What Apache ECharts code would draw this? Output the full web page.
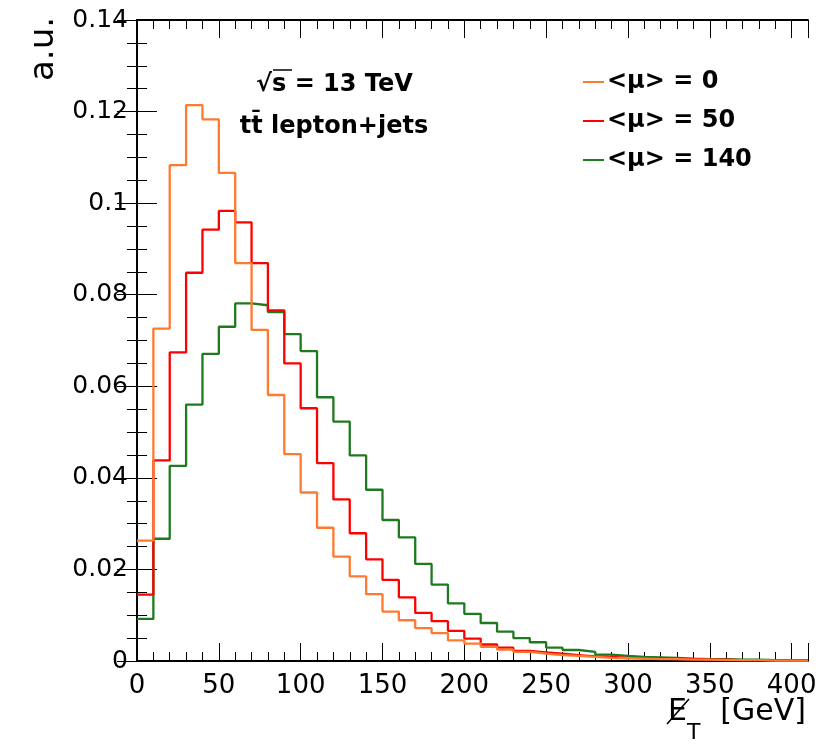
<!DOCTYPE html>
<html>
<head>
<meta charset="utf-8">
<script src="https://cdn.jsdelivr.net/npm/echarts@6/dist/echarts.min.js"></script>
<style>html,body{margin:0;padding:0;background:#fff}#c{width:824px;height:751px}</style>
</head>
<body>
<div id="c"></div>
<script>
// bin lower edges (GeV), bin width 10
const binLow = [0,10,20,30,40,50,60,70,80,90,100,110,120,130,140,150,160,170,180,190,200,
  210,220,230,240,250,260,270,280,290,300,310,320,330,340,350,360,370,380,390,400];
const binHighEnd = 410;
const mu0 = [0.0263,0.0726,0.1083,0.1214,0.1183,0.1066,0.0869,0.0723,0.0581,0.0452,0.0368,
  0.0291,0.0228,0.0185,0.0146,0.0108,0.0089,0.0072,0.0061,0.0045,0.0038,0.0031,0.0025,
  0.0020,0.0016,0.0013,0.0011,0.0009,0.0007,0.0006,0.0005,0.0004,0.0004,0.0003,0.0003,
  0.0002,0.0002,0.0002,0.0001,0.0001,0.0001];
const mu50 = [0.0145,0.0438,0.0674,0.0848,0.0942,0.0983,0.0958,0.0869,0.0766,0.0650,0.0552,
  0.0432,0.0353,0.0279,0.0222,0.0177,0.0139,0.0105,0.0087,0.0066,0.0049,0.0036,0.0029,
  0.0022,0.0019,0.0016,0.0013,0.0010,0.0009,0.0007,0.0006,0.0005,0.0004,0.0004,0.0003,
  0.0003,0.0002,0.0002,0.0002,0.0001,0.0001];
const mu140 = [0.0092,0.0267,0.0426,0.0560,0.0671,0.0730,0.0781,0.0777,0.0762,0.0714,0.0677,
  0.0576,0.0523,0.0449,0.0374,0.0308,0.0270,0.0212,0.0167,0.0126,0.0103,0.0083,0.0064,
  0.0050,0.0041,0.0029,0.0024,0.0020,0.0014,0.0011,0.0009,0.0008,0.0007,0.0005,0.0004,
  0.0004,0.0003,0.0003,0.0002,0.0002,0.0002];
const seriesNames = ['<\u03bc> = 0', '<\u03bc> = 50', '<\u03bc> = 140'];
const seriesColors = ['#ff7a2e', '#ff0000', '#1f7a1f'];

function histPoints(vals) {
  const pts = binLow.map((e, i) => [e, vals[i]]);
  pts.push([binHighEnd, vals[vals.length - 1]]);
  return pts;
}

const FONT = 'DejaVu Sans';
const chart = echarts.init(document.getElementById('c'), null, {renderer: 'canvas'});
const lineBlack = {show: true, lineStyle: {color: '#000', width: 1.8}};
const noLine = {show: false};

function xAx(pos, interval, tickLen, labels, line) {
  return {
    type: 'value', position: pos, min: 0, max: 410, interval: interval,
    axisLine: line ? lineBlack : noLine,
    axisTick: {show: true, inside: true, length: tickLen, lineStyle: {color: '#000', width: 1}},
    axisLabel: labels ? {show: true, fontFamily: FONT, fontSize: 26, color: '#000', margin: 12,
      formatter: v => (v > 400 ? '' : String(v))} : {show: false},
    splitLine: {show: false}
  };
}
function yAx(pos, labels) {
  return {
    type: 'value', position: pos, min: 0, max: 0.14, interval: 0.02,
    axisLine: lineBlack,
    axisTick: {show: true, inside: true, length: 20, lineStyle: {color: '#000', width: 1}},
    minorTick: {show: true, splitNumber: 4, length: 10, lineStyle: {color: '#000', width: 1}},
    axisLabel: labels ? {show: true, fontFamily: FONT, fontSize: 25, color: '#000', margin: 9} : {show: false},
    splitLine: {show: false}
  };
}

const series = [mu0, mu50, mu140].map((vals, i) => ({
  name: seriesNames[i], type: 'line', step: 'end', showSymbol: false, symbol: 'none',
  data: histPoints(vals), xAxisIndex: 0, yAxisIndex: 0,
  color: seriesColors[i],
  itemStyle: {color: seriesColors[i]},
  lineStyle: {color: seriesColors[i], width: 2.3},
  z: 10 - i, animation: false
}));

chart.setOption({
  animation: false,
  backgroundColor: '#fff',
  grid: {left: 137, right: 16, top: 20, bottom: 90, containLabel: false},
  xAxis: [
    xAx('bottom', 50, 18, true, true),
    xAx('bottom', 10, 9, false, false),
    xAx('top', 50, 18, false, true),
    xAx('top', 10, 9, false, false)
  ],
  yAxis: [yAx('left', true), yAx('right', false)],
  legend: {
    orient: 'vertical', left: 583, top: 70, padding: 0, itemWidth: 21, itemHeight: 2, itemGap: 15,
    icon: 'rect',
    textStyle: {fontFamily: FONT, fontSize: 24, fontWeight: 'bold', color: '#000', padding: [0,0,0,-2]},
    data: seriesNames
  },
  series: series,
  graphic: [
    {type: 'text', x: 44, y: 49, rotation: Math.PI / 2,
      style: {text: 'a.u.', font: '34px "DejaVu Sans"', fill: '#000', align: 'center', verticalAlign: 'middle'}},
    {type: 'text', x: 256, y: 85,
      style: {text: '\u221as = 13 TeV', font: 'bold 24px "DejaVu Sans"', fill: '#000', align: 'left', verticalAlign: 'middle'}},
    {type: 'line', shape: {x1: 273, y1: 70, x2: 292, y2: 70}, style: {stroke: '#000', lineWidth: 1.5}},
    {type: 'text', x: 334, y: 127,
      style: {text: 'tt\u0304 lepton+jets', font: 'bold 24px "DejaVu Sans"', fill: '#000', align: 'center', verticalAlign: 'middle'}},
    {type: 'text', x: 668, y: 712,
      style: {text: 'E', font: '30px "DejaVu Sans"', fill: '#000', align: 'left', verticalAlign: 'middle'}},
    {type: 'line', shape: {x1: 667, y1: 724, x2: 689, y2: 699}, style: {stroke: '#000', lineWidth: 1.6}},
    {type: 'text', x: 687, y: 733,
      style: {text: 'T', font: '22px "DejaVu Sans"', fill: '#000', align: 'left', verticalAlign: 'middle'}},
    {type: 'text', x: 806, y: 712,
      style: {text: '[GeV]', font: '30px "DejaVu Sans"', fill: '#000', align: 'right', verticalAlign: 'middle'}}
  ]
});
</script>
</body>
</html>
